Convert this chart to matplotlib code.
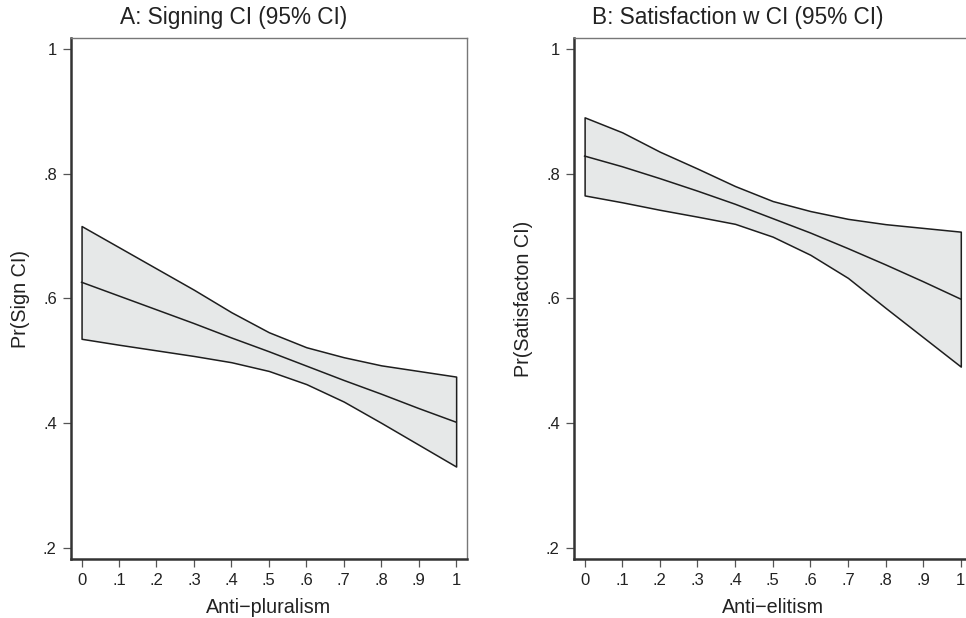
import numpy as np
import matplotlib
matplotlib.use('Agg')
import matplotlib.pyplot as plt

plt.rcParams['font.family'] = ['Liberation Sans', 'DejaVu Sans']

x_vals = [0, .1, .2, .3, .4, .5, .6, .7, .8, .9, 1]

# panel A: signing
sign_mean = [0.626, 0.604, 0.582, 0.560, 0.537, 0.515, 0.492, 0.469, 0.447, 0.424, 0.402]
sign_hi = [0.716, 0.682, 0.648, 0.614, 0.578, 0.546, 0.522, 0.506, 0.493, 0.484, 0.475]
sign_lo = [0.5355, 0.526, 0.517, 0.508, 0.498, 0.484, 0.463, 0.435, 0.401, 0.366, 0.331]

# panel B: satisfaction
sat_mean = [0.828, 0.811, 0.792, 0.772, 0.751, 0.728, 0.705, 0.680, 0.654, 0.627, 0.599]
sat_hi = [0.890, 0.866, 0.835, 0.808, 0.780, 0.756, 0.740, 0.7275, 0.719, 0.713, 0.707]
sat_lo = [0.765, 0.754, 0.742, 0.731, 0.7195, 0.699, 0.670, 0.633, 0.585, 0.538, 0.491]

x_ticks = [0, .1, .2, .3, .4, .5, .6, .7, .8, .9, 1]
x_ticklabels = ['0', '.1', '.2', '.3', '.4', '.5', '.6', '.7', '.8', '.9', '1']
y_ticks = [.2, .4, .6, .8, 1]
y_ticklabels = ['.2', '.4', '.6', '.8', '1']

W, H = 966, 618
fig = plt.figure(figsize=(W / 100, H / 100), dpi=100)

TXT = '#222222'
FILL = '#e6e8e8'
LINE = '#1e1e1e'


def panel(left_px, width_px, mean, hi, lo, title, title_cx, xlabel, ylabel):
    ax = fig.add_axes([left_px / W, (H - 559) / H, width_px / W, 521 / H])
    ax.fill_between(x_vals, lo, hi, facecolor=FILL, edgecolor=LINE, linewidth=1.1, zorder=1)
    ax.plot(x_vals, mean, color=LINE, linewidth=1.1, zorder=2)
    ax.set_xlim(-0.029, 1.029)
    ax.set_ylim(0.183, 1.017)
    ax.set_xticks(x_ticks)
    ax.set_xticklabels(x_ticklabels)
    ax.set_yticks(y_ticks)
    ax.set_yticklabels(y_ticklabels)
    ax.tick_params(direction='out', length=6, width=0.9, color='#555555',
                   labelsize=12, labelcolor=TXT, pad=4)
    for s in ['left', 'bottom']:
        ax.spines[s].set_color('#333333')
        ax.spines[s].set_linewidth(1.8)
    for s in ['top', 'right']:
        ax.spines[s].set_color('#777777')
        ax.spines[s].set_linewidth(1.0)
    ax.set_xlabel(xlabel, fontsize=14.2, color=TXT, labelpad=7)
    ax.set_ylabel(ylabel, fontsize=14.2, color=TXT, labelpad=9)
    fig.text(title_cx / W, 1 - 17.5 / H, title, fontsize=16.3, color=TXT,
             ha='center', va='center')
    return ax


panel(70.7, 396.3, sign_mean, sign_hi, sign_lo, 'A: Signing CI (95% CI)', 234,
      'Anti\u2212pluralism', 'Pr(Sign CI)')
panel(573.7, 398, sat_mean, sat_hi, sat_lo, 'B: Satisfaction w CI (95% CI)', 738,
      'Anti\u2212elitism', 'Pr(Satisfacton CI)')

fig.savefig('out.png', dpi=100, facecolor='white')
